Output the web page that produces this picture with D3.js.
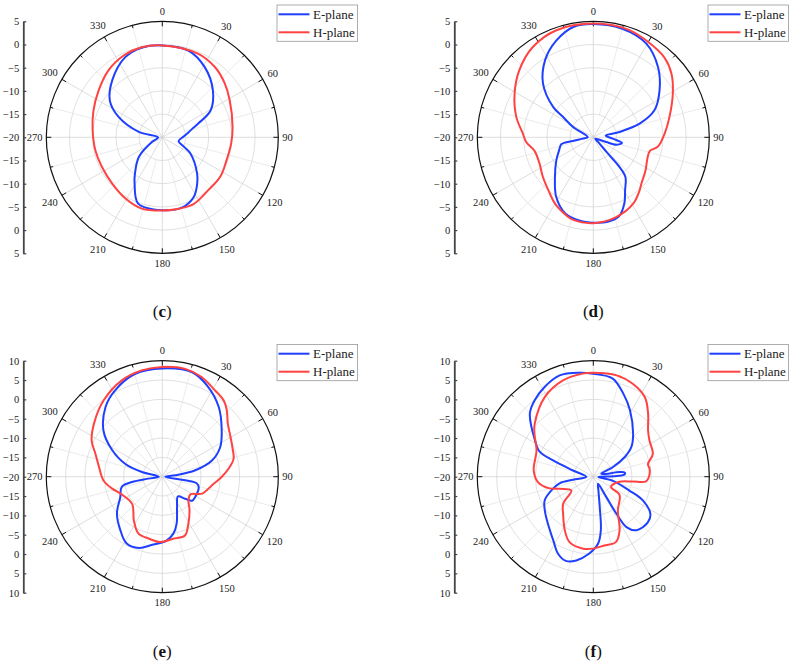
<!DOCTYPE html>
<html>
<head>
<meta charset="utf-8">
<script src="https://cdn.jsdelivr.net/npm/d3@7"></script>
<style>
  body { margin: 0; background: #fff; }
  svg { display: block; font-family: 'Liberation Serif', 'Times New Roman', serif; }
</style>
</head>
<body>
<svg id="chart" width="792" height="666"></svg>
<script>
// radiation patterns, [angle in degrees, gain in dB]
const planeC_E = [[0,-0.2],[17,-0.5],[31,-2.3],[47,-5.1],[61,-8.1],[69,-11.7],[73,-13.0],[79,-14.2],[88,-15.4],[103,-16.4],[114,-14.8],[120,-13.0],[136,-9.2],[143,-7.5],[152,-5.5],[164,-4.3],[180,-4.3],[200,-4.8],[211,-8.4],[217,-10.2],[230,-13.4],[246,-17.6],[268,-19.1],[283,-14.8],[295,-9.6],[305,-6.2],[319,-3.6],[335,-1.0],[347,-0.2]]
const planeC_H = [[0,-0.2],[23,-0.4],[37,-1.1],[49,-2.2],[61,-3.4],[82,-4.7],[95,-5.1],[110,-5.3],[124,-4.9],[139,-4.9],[155,-4.1],[167,-4.2],[180,-4.2],[196,-4.0],[211,-4.6],[227,-5.3],[244,-5.5],[259,-5.3],[276,-4.9],[291,-4.1],[306,-3.0],[321,-1.5],[335,-0.5],[347,-0.1]]

const planeD_E = [[0,4.4],[15,4.2],[29.5,3.2],[42.6,0.6],[54.7,-2.5],[66.2,-5.6],[73.6,-9.6],[78.5,-14.2],[82,-17.3],[94,-15.8],[101,-13.7],[108,-14.8],[110,-17.0],[112,-18.7],[125,-19.5],[134,-18.5],[138,-15.4],[138.5,-11.5],[141,-9.0],[149,-6.7],[155,-4.2],[162,-2.1],[171,-1.5],[180,-1.6],[189,-1.8],[200,-2.5],[212,-4.9],[224,-8.1],[238,-10.6],[249,-12.1],[258,-13.0],[260,-15.5],[263,-17.7],[272,-18.8],[297,-15.1],[304,-12.1],[307,-9.2],[317,-4.1],[328,-0.4],[339,2.3],[350,4.2]]
const planeD_H = [[0,4.5],[18,4.4],[30,3.7],[42,3.0],[51,1.7],[61,-0.4],[75,-3.0],[87,-4.6],[98,-5.9],[104,-7.5],[113,-7.4],[122,-6.7],[134,-5.6],[139,-4.8],[149,-3.3],[164,-2.1],[180,-1.5],[194,-1.7],[199,-2.2],[210,-3.5],[220,-5.0],[232,-6.2],[244,-7.1],[257,-7.0],[266,-5.5],[273,-4.8],[285,-2.8],[299,-0.6],[312,1.5],[326,3.4],[341,4.4]]

const planeE_E = [[0,8.0],[16,8.1],[27,6.1],[39,3.2],[52,-0.5],[63,-3.2],[72,-6.5],[79,-11.3],[84,-16.6],[90,-19.2],[99,-14.0],[101,-10.9],[106,-10.2],[122,-10.0],[129,-10.1],[134,-11.8],[141.5,-13.5],[154,-11.3],[163,-7.3],[169,-5.0],[177,-3.3],[189,-2.1],[198,-0.6],[208,-0.4],[218,-2.4],[231,-4.9],[244,-7.9],[256,-9.2],[260,-12.0],[262,-16.4],[270,-19.1],[283,-14.6],[289,-9.9],[298,-5.3],[308,-0.7],[321,3.3],[331,5.4],[345,7.5]]
const planeE_H = [[0,8.4],[12,8.5],[21.5,7.7],[31,6.2],[39,5.3],[44,4.0],[51,1.8],[60,0.4],[68,-0.4],[76,-1.0],[83,-2.7],[90,-4.6],[100,-7.0],[113,-8.8],[122,-11.4],[132,-10.9],[141,-8.8],[151,-6.1],[159,-3.7],[170,-3.7],[182,-3.1],[192,-3.6],[203,-4.1],[213,-6.5],[228,-9.5],[246,-8.6],[257,-6.6],[266,-4.8],[279,-3.4],[289,-1.7],[297,0.5],[308,2.4],[322.5,4.9],[337,7.0],[349,8.0]]

const planeF_E = [[0,6.6],[11,5.9],[20,2.8],[29,-0.4],[43,-4.9],[52,-7.5],[58,-10.4],[64,-14.3],[69,-17.8],[75,-17.4],[80,-13.1],[82.5,-11.8],[86,-11.9],[89,-14.8],[93,-18.7],[102,-14.8],[111,-10.0],[115.5,-5.8],[123,-2.4],[130,-1.6],[141,-2.2],[146.7,-4.4],[148,-8.7],[147.4,-13.8],[146.3,-17.8],[160,-16.1],[168,-12.0],[172,-6.0],[176,-2.6],[183,-0.1],[191.5,2.1],[198,2.9],[204.6,1.9],[212,-0.5],[224,-3.1],[235,-4.7],[244,-6.0],[252,-8.6],[259,-11.1],[261.6,-14.7],[268,-18.2],[287,-14.5],[292,-8.8],[295,-4.7],[302,-2.2],[315,3.2],[322.5,4.9],[331.5,6.4],[341.6,7.6],[352.5,7.1]]
const planeF_H = [[0,6.9],[13,6.9],[23,6.1],[33,4.5],[41,1.6],[50,-1.5],[57,-2.7],[69,-3.5],[77,-5.5],[82,-5.3],[90,-5.6],[95,-6.3],[97,-9.7],[101,-13.1],[120,-14.7],[125,-11.7],[144,-9.2],[154,-4.5],[161,-2.1],[171,-2.0],[180,-1.4],[188,-1.2],[200,-2.0],[208,-4.3],[219,-7.6],[228,-9.5],[238,-13.3],[250,-10.8],[255,-8.3],[264.5,-5.6],[276,-4.5],[295,-3.8],[306,-1.2],[312,0.4],[328.6,4.1],[342.5,6.1],[354,6.8]]

const seriesNames = ['E-plane', 'H-plane']
const angleLabels = d3.range(0, 360, 30)
const spokeAngles = d3.range(0, 360, 15)

const panels = [
    { key: 'c', cx: 162.3, cy: 137.3, lo: -20, hi: 5, E: planeC_E, H: planeC_H },
    { key: 'd', cx: 593.3, cy: 137.3, lo: -20, hi: 5, E: planeD_E, H: planeD_H },
    { key: 'e', cx: 162.3, cy: 476.7, lo: -20, hi: 10, E: planeE_E, H: planeE_H },
    { key: 'f', cx: 593.3, cy: 476.7, lo: -20, hi: 10, E: planeF_E, H: planeF_H }
]

const R = 116
const colors = ['#1f3fff', '#ff4242']
const fmt = v => v < 0 ? '\u2212' + Math.abs(v) : String(v)
const rad = a => a * Math.PI / 180

const svg = d3.select('#chart')

panels.forEach(p => {
    const g = svg.append('g').attr('transform', `translate(${p.cx},${p.cy})`)
    const r = d3.scaleLinear().domain([p.lo, p.hi]).range([0, R]).clamp(true)
    const rings = d3.range(p.lo + 5, p.hi, 5)

    // grid rings
    g.selectAll('.ring')
        .data(rings)
        .enter().append('circle')
            .attr('r', d => r(d))
            .attr('fill', 'none')
            .attr('stroke', '#d2d2d2')
            .attr('stroke-width', 0.7)

    // spokes, minor ones start at the first ring
    g.selectAll('.spoke')
        .data(spokeAngles)
        .enter().append('line')
            .attr('x1', d => (d % 30 ? r(rings[0]) : 0) * Math.sin(rad(d)))
            .attr('y1', d => -(d % 30 ? r(rings[0]) : 0) * Math.cos(rad(d)))
            .attr('x2', d => R * Math.sin(rad(d)))
            .attr('y2', d => -R * Math.cos(rad(d)))
            .attr('stroke', d => d % 30 ? '#e2e2e2' : '#cfcfcf')
            .attr('stroke-width', 0.7)

    // outer circle and its ticks
    g.append('circle')
        .attr('r', R)
        .attr('fill', 'none')
        .attr('stroke', '#111')
        .attr('stroke-width', 1.2)

    g.selectAll('.otick')
        .data(spokeAngles)
        .enter().append('line')
            .attr('x1', d => R * Math.sin(rad(d)))
            .attr('y1', d => -R * Math.cos(rad(d)))
            .attr('x2', d => (R - (d % 30 ? 3 : 5)) * Math.sin(rad(d)))
            .attr('y2', d => -(R - (d % 30 ? 3 : 5)) * Math.cos(rad(d)))
            .attr('stroke', '#111')
            .attr('stroke-width', 1)

    // angle labels
    g.selectAll('.alabel')
        .data(angleLabels)
        .enter().append('text')
            .attr('x', d => {
                const s = Math.sin(rad(d)), c = Math.cos(rad(d))
                const off = R + 4 + Math.abs(s) * String(d).length * 2.6 + Math.abs(c) * 6
                return off * s
            })
            .attr('y', d => {
                const s = Math.sin(rad(d)), c = Math.cos(rad(d))
                const off = R + 4 + Math.abs(s) * String(d).length * 2.6 + Math.abs(c) * 6
                return -off * c
            })
            .attr('text-anchor', 'middle')
            .attr('dominant-baseline', 'central')
            .attr('font-size', '10.5px')
            .attr('fill', '#222')
            .text(d => d)

    // pattern curves
    const line = d3.lineRadial()
        .angle(d => rad(d[0]))
        .radius(d => r(d[1]))
        .curve(d3.curveCatmullRomClosed.alpha(0.5))

    ;[p.E, p.H].forEach((data, i) => {
        g.append('path')
            .datum(data)
            .attr('d', line)
            .attr('fill', 'none')
            .attr('stroke', colors[i])
            .attr('stroke-width', 2)
            .attr('stroke-linejoin', 'round')
    })

    // radial axis on the left, mirrored about the centre
    const span = p.hi - p.lo
    const yAx = d3.scaleLinear().domain([-span, span]).range([-R, R])
    const axis = d3.axisLeft(yAx)
        .tickValues(d3.range(-span, span + 1, 5))
        .tickSizeInner(-3)
        .tickSizeOuter(0)
        .tickPadding(4)
        .tickFormat(u => fmt(p.lo + Math.abs(u)))

    const ax = g.append('g')
        .attr('transform', 'translate(-139,0)')
        .call(axis)
    ax.select('.domain').attr('stroke', '#444').attr('stroke-width', 1.8)
    ax.selectAll('.tick line').attr('stroke', '#444').attr('stroke-width', 1.2)
    ax.selectAll('.tick text')
        .attr('font-family', "'Liberation Serif', serif")
        .attr('font-size', '10.5px')
        .attr('fill', '#222')

    // legend
    const lg = g.append('g').attr('transform', `translate(${114.7},${-132.3})`)
    lg.append('rect')
        .attr('width', 80.6)
        .attr('height', 36.3)
        .attr('fill', '#fff')
        .attr('stroke', '#999')
        .attr('stroke-width', 0.8)
    seriesNames.forEach((name, i) => {
        lg.append('line')
            .attr('x1', 1.5).attr('x2', 32.5)
            .attr('y1', 9.3 + i * 18).attr('y2', 9.3 + i * 18)
            .attr('stroke', colors[i])
            .attr('stroke-width', 2)
        lg.append('text')
            .attr('x', 36)
            .attr('y', 9.3 + i * 18)
            .attr('dy', '0.35em')
            .attr('font-size', '13px')
            .attr('fill', '#222')
            .text(name)
    })

    // caption
    const cap = g.append('text')
        .attr('x', 0)
        .attr('y', 180)
        .attr('text-anchor', 'middle')
        .attr('font-size', '17px')
        .attr('fill', '#111')
    cap.append('tspan').text('(')
    cap.append('tspan').attr('font-weight', 'bold').text(p.key)
    cap.append('tspan').text(')')
})
</script>
</body>
</html>
